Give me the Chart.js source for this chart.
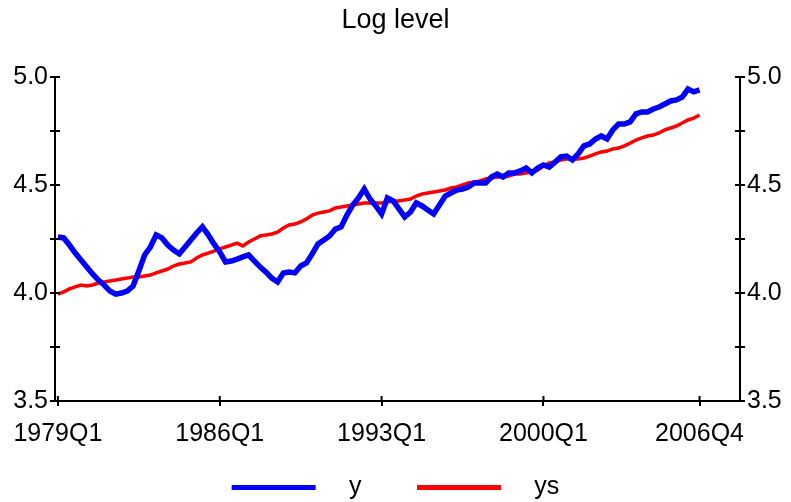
<!DOCTYPE html>
<html>
<head>
<meta charset="utf-8">
<script src="https://cdn.jsdelivr.net/npm/chart.js"></script>
<style>
  html, body { margin: 0; padding: 0; background: #fff; }
  #wrap { width: 791px; height: 502px; }
</style>
</head>
<body>
<div id="wrap"><canvas id="chart"></canvas></div>
<script>
// quarterly series, 1979Q1 .. 2006Q4
const firstYear = 1979;
const lastYear = 2006;

const ySeries = [
  4.259, 4.255, 4.222, 4.185, 4.153, 4.120, 4.088, 4.060, 4.037, 4.009,
  3.995, 4.000, 4.009, 4.032, 4.102, 4.176, 4.213, 4.269, 4.255, 4.222,
  4.199, 4.181, 4.213, 4.245, 4.278, 4.306, 4.269, 4.227, 4.190, 4.144,
  4.148, 4.157, 4.167, 4.176, 4.148, 4.120, 4.097, 4.069, 4.051, 4.093,
  4.097, 4.093, 4.125, 4.139, 4.181, 4.227, 4.245, 4.264, 4.296, 4.306,
  4.361, 4.407, 4.440, 4.481, 4.435, 4.403, 4.366, 4.440, 4.426, 4.389,
  4.352, 4.375, 4.417, 4.403, 4.384, 4.366, 4.407, 4.449, 4.463, 4.477,
  4.481, 4.491, 4.509, 4.509, 4.509, 4.537, 4.551, 4.537, 4.556, 4.556,
  4.565, 4.579, 4.556, 4.579, 4.593, 4.583, 4.606, 4.630, 4.634, 4.616,
  4.644, 4.681, 4.690, 4.713, 4.727, 4.713, 4.755, 4.782, 4.782, 4.792,
  4.829, 4.838, 4.838, 4.852, 4.861, 4.875, 4.889, 4.894, 4.907, 4.944,
  4.931, 4.940
];

const ysSeries = [
  3.995, 4.005, 4.019, 4.028, 4.037, 4.032, 4.037, 4.046, 4.051, 4.056,
  4.060, 4.065, 4.069, 4.074, 4.074, 4.079, 4.083, 4.093, 4.102, 4.111,
  4.125, 4.134, 4.139, 4.144, 4.162, 4.176, 4.185, 4.194, 4.204, 4.213,
  4.222, 4.231, 4.218, 4.236, 4.250, 4.264, 4.269, 4.273, 4.282, 4.301,
  4.315, 4.319, 4.329, 4.343, 4.361, 4.370, 4.375, 4.380, 4.394, 4.398,
  4.403, 4.407, 4.412, 4.417, 4.417, 4.417, 4.417, 4.421, 4.426, 4.426,
  4.431, 4.435, 4.449, 4.458, 4.463, 4.468, 4.472, 4.477, 4.486, 4.491,
  4.500, 4.509, 4.514, 4.519, 4.528, 4.532, 4.537, 4.537, 4.542, 4.551,
  4.551, 4.556, 4.560, 4.569, 4.588, 4.602, 4.606, 4.616, 4.620, 4.620,
  4.620, 4.625, 4.634, 4.644, 4.653, 4.657, 4.667, 4.671, 4.681, 4.694,
  4.708, 4.718, 4.727, 4.731, 4.741, 4.755, 4.764, 4.773, 4.787, 4.801,
  4.810, 4.824
];

const xTickLabels = ['1979Q1', '1986Q1', '1993Q1', '2000Q1', '2006Q4'];
const yTicks = [3.5, 3.75, 4.0, 4.25, 4.5, 4.75, 5.0];
const yLabelled = [3.5, 4.0, 4.5, 5.0];

// quarter names for the x positions
const quarters = [];
for (let yr = firstYear; yr <= lastYear; yr++) {
  for (let q = 1; q <= 4; q++) quarters.push(yr + 'Q' + q);
}
const xTickIdx = xTickLabels.map(l => quarters.indexOf(l));

const toPoints = arr => arr.map((v, i) => ({ x: i, y: v }));

const FONT = "'Liberation Sans', Arial, sans-serif";

// draws the inner half of every tick so they cross the axis lines
const crossTicks = {
  id: 'crossTicks',
  afterDraw(chart) {
    const ctx = chart.ctx;
    const a = chart.chartArea;
    const len = 5;
    ctx.save();
    ctx.strokeStyle = '#000';
    ctx.lineWidth = 2;
    ctx.beginPath();
    for (const v of yTicks) {
      const py = chart.scales.y.getPixelForValue(v);
      ctx.moveTo(a.left, py); ctx.lineTo(a.left + len, py);
      ctx.moveTo(a.right, py); ctx.lineTo(a.right - len, py);
    }
    for (const i of xTickIdx) {
      const px = chart.scales.x.getPixelForValue(i);
      ctx.moveTo(px, a.bottom); ctx.lineTo(px, a.bottom - len);
    }
    ctx.stroke();
    ctx.restore();
  }
};

const yAxis = (pos, width) => ({
  type: 'linear',
  position: pos,
  min: 3.5,
  max: 5.0,
  afterBuildTicks: s => { s.ticks = yTicks.map(v => ({ value: v })); },
  afterFit: s => { s.width = width; },
  border: { display: true, color: '#000', width: 2 },
  grid: { display: true, drawOnChartArea: false, color: '#000', lineWidth: 2, tickLength: 5 },
  ticks: {
    color: '#000',
    padding: 2,
    font: { family: FONT, size: 25 },
    callback: v => (yLabelled.includes(v) ? v.toFixed(1) : '')
  }
});

new Chart(document.getElementById('chart'), {
  type: 'line',
  data: {
    datasets: [
      {
        label: 'y',
        data: toPoints(ySeries),
        borderColor: '#0000ff',
        backgroundColor: '#0000ff',
        borderWidth: 5.5,
        pointRadius: 0,
        tension: 0,
        yAxisID: 'y'
      },
      {
        label: 'ys',
        data: toPoints(ysSeries),
        borderColor: '#ff0000',
        backgroundColor: '#ff0000',
        borderWidth: 3.5,
        pointRadius: 0,
        tension: 0,
        yAxisID: 'y'
      }
    ]
  },
  options: {
    responsive: true,
    maintainAspectRatio: false,
    animation: false,
    layout: { padding: { top: 0, left: 0, right: 0, bottom: -8 } },
    plugins: {
      title: {
        display: true,
        text: 'Log level',
        color: '#000',
        font: { family: FONT, size: 27, weight: 'normal' },
        padding: { top: 4, bottom: 40.6 }
      },
      legend: {
        position: 'bottom',
        labels: {
          color: '#000',
          font: { family: FONT, size: 25 },
          boxWidth: 84,
          boxHeight: 5,
          padding: 0,
          generateLabels: chart => chart.data.datasets.map((d, i) => ({
            text: '   ' + d.label + (i === 0 ? '        ' : ''),
            fillStyle: d.borderColor,
            strokeStyle: d.borderColor,
            lineWidth: 0,
            datasetIndex: i
          }))
        }
      },
      tooltip: { enabled: false }
    },
    scales: {
      x: {
        type: 'linear',
        min: -0.5,
        max: 118,
        afterBuildTicks: s => { s.ticks = xTickIdx.map(v => ({ value: v })); },
        afterFit: s => { s.height = 74; },
        border: { display: true, color: '#000', width: 2 },
        grid: { display: true, drawOnChartArea: false, color: '#000', lineWidth: 2, tickLength: 5 },
        ticks: {
          color: '#000',
          padding: 13,
          maxRotation: 0,
          autoSkip: false,
          font: { family: FONT, size: 25 },
          callback: v => quarters[v]
        }
      },
      y: yAxis('left', 55),
      y2: yAxis('right', 51)
    }
  },
  plugins: [crossTicks]
});
</script>
</body>
</html>
